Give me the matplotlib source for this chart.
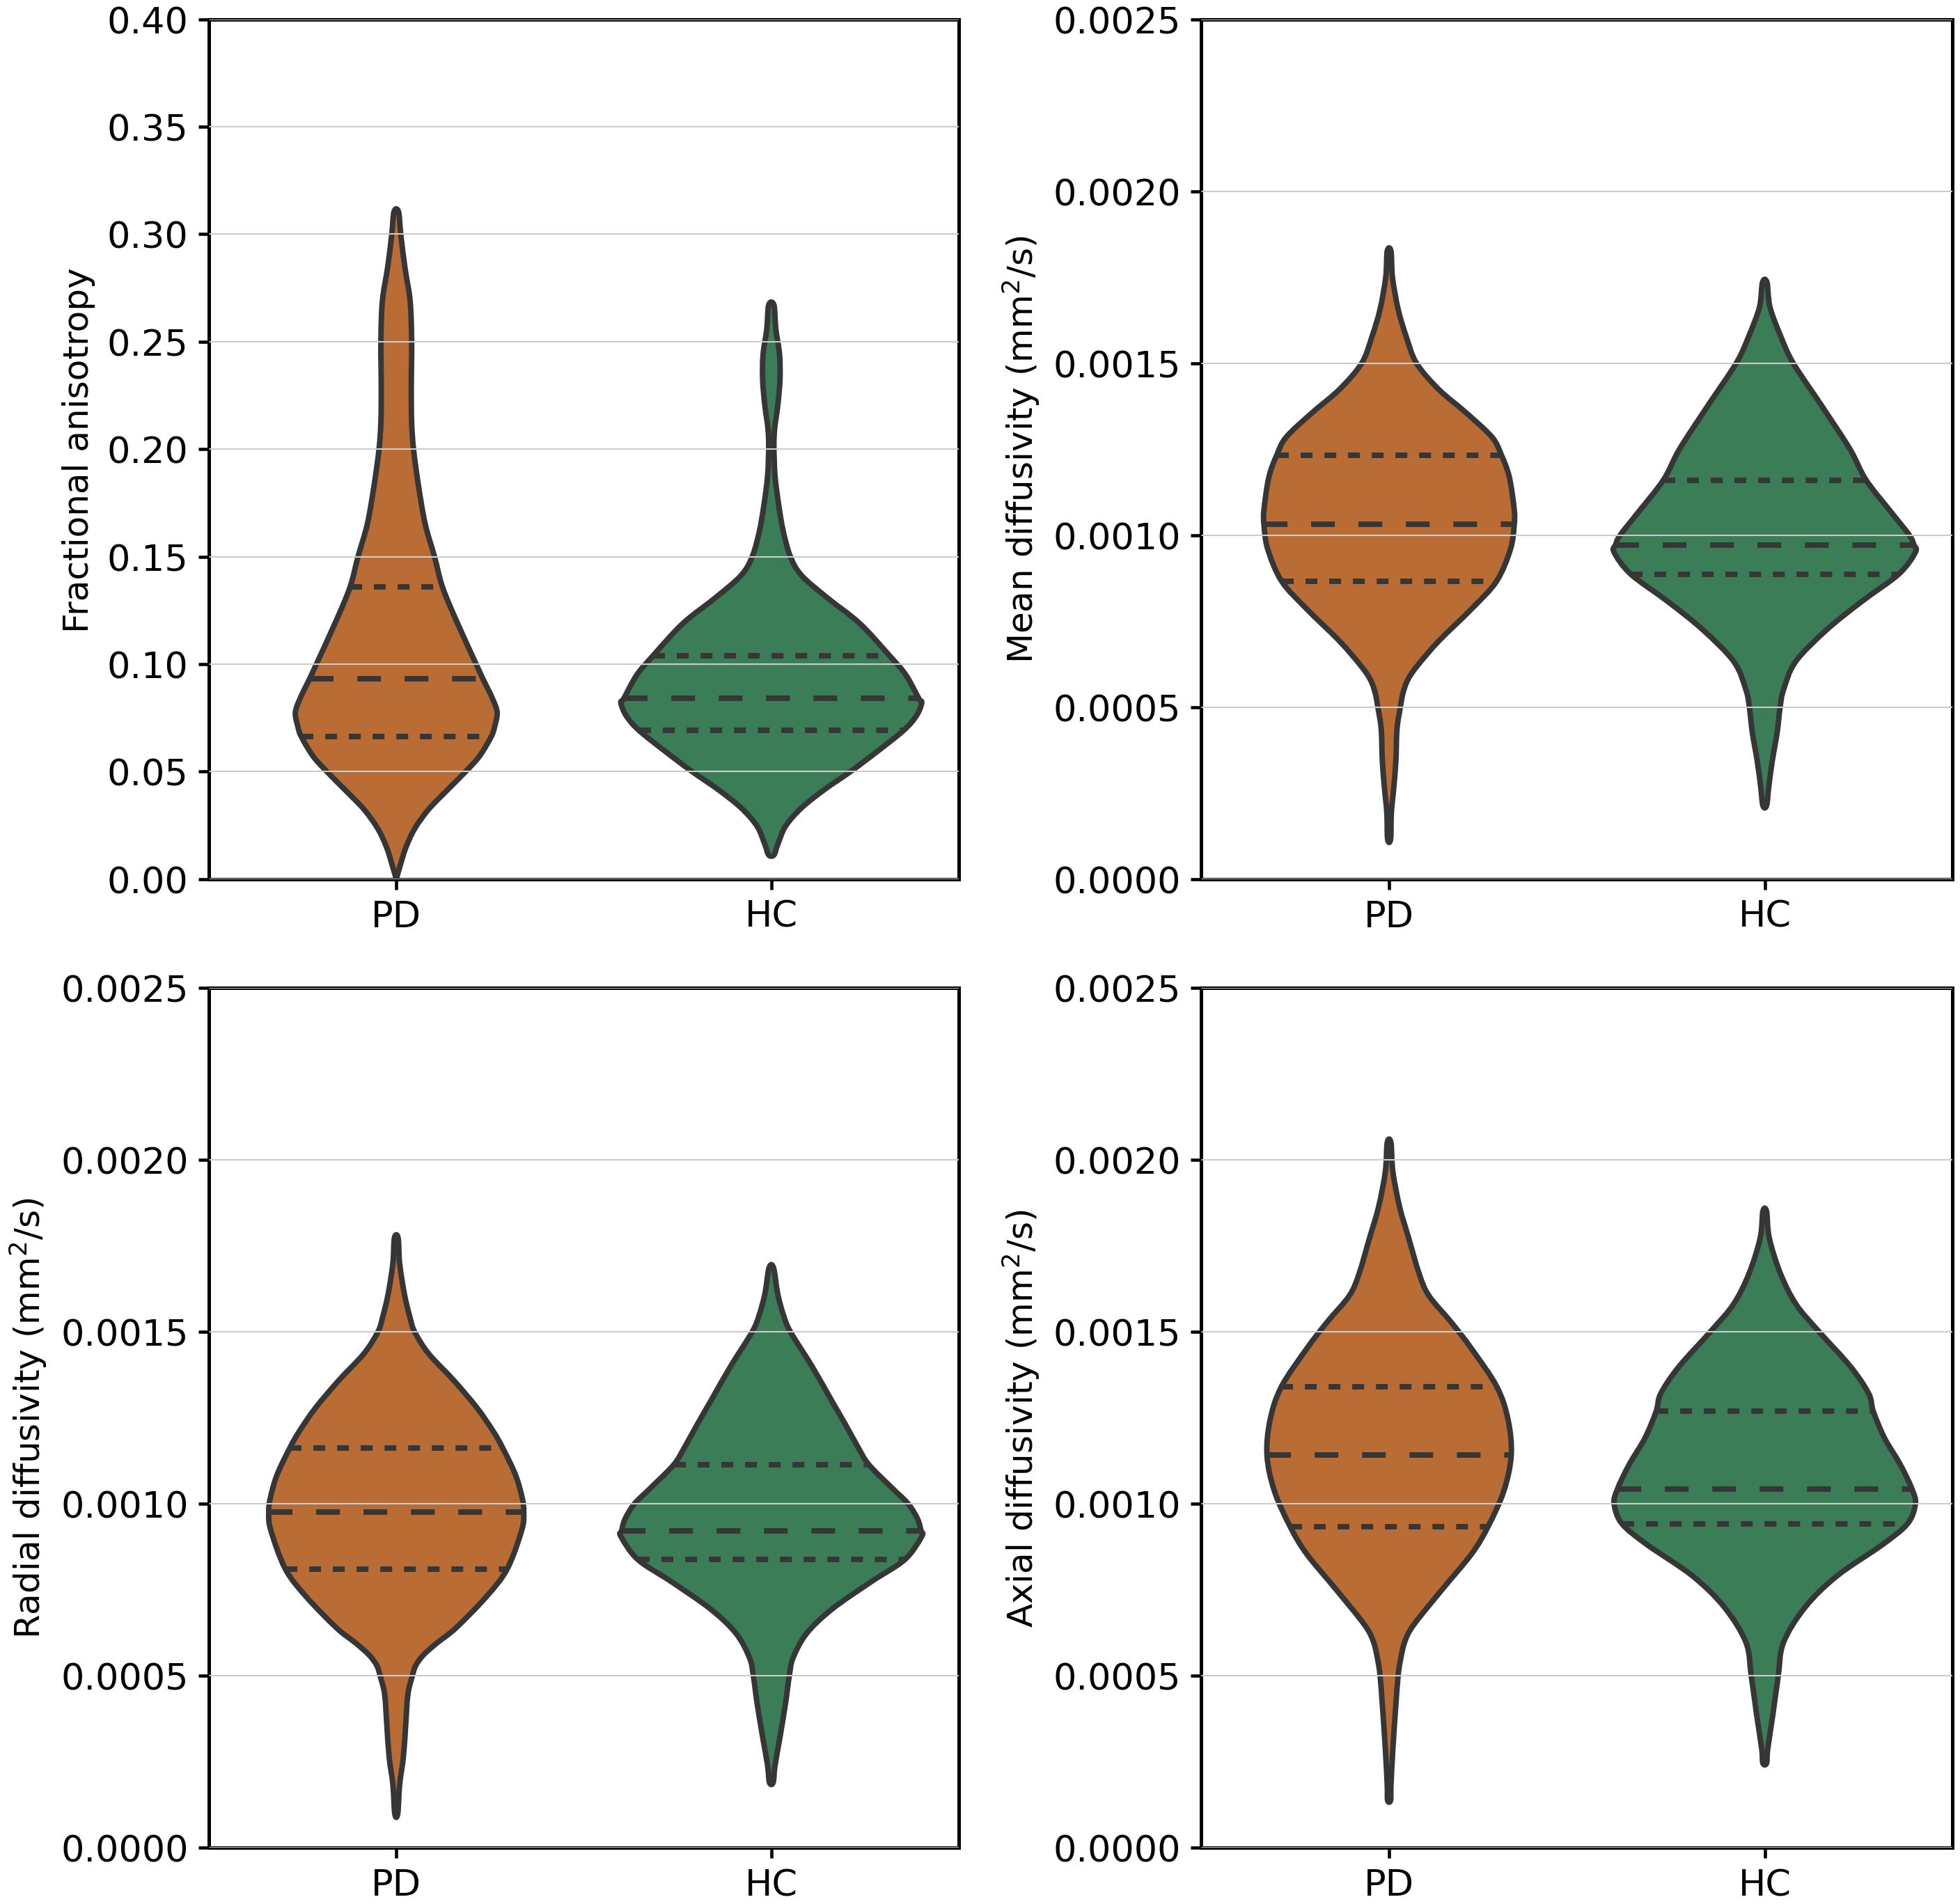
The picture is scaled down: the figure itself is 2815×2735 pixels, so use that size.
import numpy as np
import matplotlib
matplotlib.use("Agg")
import matplotlib.pyplot as plt
from matplotlib.path import Path
from matplotlib.patches import PathPatch
from matplotlib.ticker import FormatStrFormatter, MultipleLocator

groups = ["PD", "HC"]
colors = ["#BA6C35", "#3A7D57"]
edge = "#363636"

# violin outlines: value and half-width (x units), bottom to top
fa_pd_val = [0.0, 0.0054, 0.0144, 0.0234, 0.0324, 0.0414, 0.050, 0.0572, 0.0662, 0.0707,
             0.0775, 0.0842, 0.0932, 0.100, 0.1203, 0.136, 0.150, 0.1653, 0.1833, 0.200,
             0.2126, 0.2283, 0.250, 0.2689, 0.2846, 0.300, 0.3105]
fa_pd_half = [0.0, 0.009, 0.025, 0.049, 0.086, 0.136, 0.185, 0.222, 0.253, 0.262,
              0.269, 0.256, 0.231, 0.213, 0.160, 0.123, 0.102, 0.077, 0.059, 0.046,
              0.041, 0.040, 0.041, 0.037, 0.023, 0.012, 0.006]
fa_hc_val = [0.0112, 0.016, 0.0246, 0.0332, 0.0418, 0.050, 0.0589, 0.0692, 0.076, 0.082,
             0.0841, 0.0949, 0.1038, 0.1189, 0.1309, 0.1412, 0.150, 0.1617, 0.1737, 0.1874,
             0.2011, 0.2097, 0.220, 0.232, 0.244, 0.256, 0.2671]
fa_hc_half = [0.007, 0.017, 0.038, 0.081, 0.143, 0.211, 0.279, 0.353, 0.387, 0.401,
              0.393, 0.359, 0.316, 0.236, 0.149, 0.081, 0.051, 0.032, 0.020, 0.010,
              0.007, 0.009, 0.017, 0.023, 0.022, 0.012, 0.007]

md_pd_val = [0.000116, 0.000192, 0.000261, 0.000343, 0.000436, 0.0005, 0.000541, 0.000580,
             0.000620, 0.000692, 0.000785, 0.000866, 0.000959, 0.001029, 0.001075, 0.001169,
             0.001233, 0.001285, 0.001355, 0.001424, 0.0015, 0.001576, 0.001657, 0.00175,
             0.001826]
md_pd_half = [0.004, 0.006, 0.012, 0.018, 0.021, 0.030, 0.037, 0.050,
              0.075, 0.132, 0.219, 0.286, 0.323, 0.333, 0.333, 0.320,
              0.299, 0.274, 0.206, 0.132, 0.073, 0.046, 0.024, 0.009,
              0.005]
md_hc_val = [0.000214, 0.000271, 0.000343, 0.000426, 0.0005, 0.00055, 0.000632, 0.000725,
             0.000807, 0.000887, 0.00095, 0.000972, 0.0010, 0.001065, 0.00116, 0.00125,
             0.001374, 0.0015, 0.00158, 0.001663, 0.001735]
md_hc_half = [0.005, 0.011, 0.020, 0.033, 0.041, 0.050, 0.082, 0.165,
              0.258, 0.357, 0.401, 0.397, 0.385, 0.338, 0.270, 0.227,
              0.153, 0.076, 0.042, 0.014, 0.006]

rd_pd_val = [0.000099, 0.000184, 0.000264, 0.000355, 0.000446, 0.0005, 0.00053, 0.00056,
             0.000595, 0.00064, 0.000731, 0.000811, 0.000925, 0.000976, 0.001016, 0.001084,
             0.001162, 0.00121, 0.001278, 0.001358, 0.001437, 0.0015, 0.00154, 0.001608,
             0.001699, 0.001773]
rd_pd_half = [0.004, 0.009, 0.019, 0.025, 0.031, 0.043, 0.052, 0.072,
              0.108, 0.160, 0.241, 0.296, 0.335, 0.340, 0.336, 0.318,
              0.284, 0.259, 0.216, 0.154, 0.086, 0.049, 0.037, 0.022,
              0.009, 0.005]
rd_hc_val = [0.00019, 0.00024, 0.000321, 0.000421, 0.0005, 0.000552, 0.000623, 0.000694,
             0.000774, 0.000838, 0.000905, 0.000922, 0.000956, 0.0010, 0.001046, 0.001114,
             0.001167, 0.001228, 0.001298, 0.001399, 0.0015, 0.00155, 0.001611, 0.001686]
rd_hc_half = [0.005, 0.010, 0.023, 0.038, 0.048, 0.058, 0.094, 0.162,
              0.267, 0.356, 0.401, 0.399, 0.390, 0.365, 0.322, 0.260,
              0.230, 0.199, 0.162, 0.109, 0.051, 0.032, 0.017, 0.006]

ad_pd_val = [0.000138, 0.000183, 0.000287, 0.000416, 0.0005, 0.000545, 0.000600, 0.000649,
             0.000752, 0.000855, 0.000933, 0.001036, 0.00114, 0.001243, 0.00134, 0.00145,
             0.001527, 0.001605, 0.001669, 0.001773, 0.001863, 0.001966, 0.00205]
ad_pd_half = [0.004, 0.005, 0.010, 0.018, 0.024, 0.030, 0.042, 0.066,
              0.142, 0.220, 0.263, 0.305, 0.325, 0.317, 0.287, 0.220,
              0.166, 0.106, 0.080, 0.052, 0.028, 0.010, 0.005]
ad_hc_val = [0.000246, 0.000287, 0.00039, 0.0005, 0.000597, 0.0007, 0.000791, 0.000881,
             0.000942, 0.001, 0.001043, 0.001114, 0.001191, 0.001269, 0.00132, 0.001398,
             0.0015, 0.001579, 0.001669, 0.001773, 0.00185]
ad_hc_half = [0.005, 0.008, 0.022, 0.036, 0.050, 0.108, 0.193, 0.313,
              0.380, 0.401, 0.392, 0.361, 0.319, 0.289, 0.277, 0.229,
              0.145, 0.084, 0.042, 0.012, 0.005]

# quartiles (q1, median, q3)
fa_quart = [[0.0662, 0.0932, 0.136], [0.0692, 0.0841, 0.1038]]
md_quart = [[0.000866, 0.001032, 0.001233], [0.000887, 0.000972, 0.00116]]
rd_quart = [[0.000811, 0.000976, 0.001162], [0.000838, 0.000922, 0.001114]]
ad_quart = [[0.000933, 0.001142, 0.00134], [0.000942, 0.001043, 0.001269]]

panels = [
    ("Fractional anisotropy", [(fa_pd_val, fa_pd_half), (fa_hc_val, fa_hc_half)], fa_quart,
     (0, 0.40), 0.05, "%.2f"),
    ("Mean diffusivity (mm$^2$/s)", [(md_pd_val, md_pd_half), (md_hc_val, md_hc_half)], md_quart,
     (0, 0.0025), 0.0005, "%.4f"),
    ("Radial diffusivity (mm$^2$/s)", [(rd_pd_val, rd_pd_half), (rd_hc_val, rd_hc_half)], rd_quart,
     (0, 0.0025), 0.0005, "%.4f"),
    ("Axial diffusivity (mm$^2$/s)", [(ad_pd_val, ad_pd_half), (ad_hc_val, ad_hc_half)], ad_quart,
     (0, 0.0025), 0.0005, "%.4f"),
]

rects = [
    [0.1065, 0.5381, 0.3827, 0.4514],
    [0.6129, 0.5381, 0.3833, 0.4514],
    [0.1065, 0.0295, 0.3827, 0.4515],
    [0.6129, 0.0295, 0.3833, 0.4515],
]


def outline_path(xs, ys):
    # closed smooth curve through the outline points (catmull-rom as bezier)
    pts = np.column_stack([xs, ys])
    n = len(pts)
    verts = [pts[0]]
    codes = [Path.MOVETO]
    for i in range(n):
        p0 = pts[(i - 1) % n]
        p1 = pts[i]
        p2 = pts[(i + 1) % n]
        p3 = pts[(i + 2) % n]
        verts += [p1 + (p2 - p0) / 6, p2 - (p3 - p1) / 6, p2]
        codes += [Path.CURVE4] * 3
    verts.append(pts[0])
    codes.append(Path.CLOSEPOLY)
    return Path(verts, codes)


plt.rcParams["font.family"] = ["DejaVu Sans"]
plt.rcParams["font.size"] = 12
lw = 1.9

fig = plt.figure(figsize=(2815 / 300, 2736 / 300), dpi=300)

for (label, profiles, quarts, ylim, step, fmt), rect in zip(panels, rects):
    ax = fig.add_axes(rect)
    for i, ((vals, halves), q) in enumerate(zip(profiles, quarts)):
        vals = np.array(vals)
        halves = np.array(halves)
        xs = np.concatenate([i + halves, i - halves[::-1]])
        ys = np.concatenate([vals, vals[::-1]])
        path = outline_path(xs, ys)
        ax.add_patch(PathPatch(path, facecolor=colors[i], edgecolor=edge, lw=lw,
                               joinstyle="round", zorder=1))
        for j, qv in enumerate(q):
            w = np.interp(qv, vals, halves)
            dash = (0, (4.3, 4.3)) if j == 1 else (0, (2.15, 2.15))
            ax.plot([i - w, i + w], [qv, qv], color=edge, lw=lw, linestyle=dash,
                    dash_capstyle="butt", zorder=2)
    ax.set_xlim(-0.5, 1.5)
    ax.set_ylim(*ylim)
    ax.set_xticks([0, 1])
    ax.set_xticklabels(groups)
    ax.yaxis.set_major_locator(MultipleLocator(step))
    ax.yaxis.set_major_formatter(FormatStrFormatter(fmt))
    ax.tick_params(labelsize=12.6, width=1.1)
    ax.set_ylabel(label)
    ax.grid(axis="y", color="#cccccc", lw=0.5)
    ax.set_axisbelow(False)
    for s in ax.spines.values():
        s.set_linewidth(1.2)
        s.set_color("black")

fig.savefig("out.png", dpi=300)
